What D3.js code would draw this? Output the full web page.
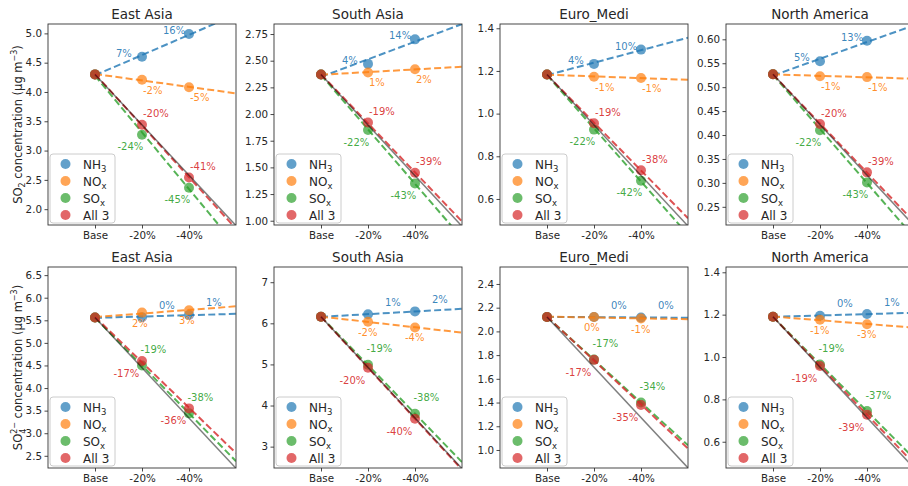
<!DOCTYPE html>
<html><head><meta charset="utf-8">
<script src="https://cdn.jsdelivr.net/npm/d3@7"></script>
<style>body{margin:0;background:#fff} svg text{font-family:"DejaVu Sans",sans-serif}</style>
</head><body><script>
// ---------- DATA ----------
const regions = ["East Asia","South Asia","Euro_Medi","North America"];
const steps = ["Base","-20%","-40%"];
const seriesNames = ["NH3","NOx","SOx","All 3"];

// Row 1: SO2 concentration
const so2Base = [4.30, 2.37, 1.183, 0.527];
const so2NH3 = [[4.60,4.99],[2.47,2.70],[1.233,1.300],[0.554,0.597]];
const so2NOx = [[4.21,4.08],[2.39,2.42],[1.173,1.167],[0.523,0.521]];
const so2SOx = [[3.27,2.365],[1.85,1.35],[0.925,0.685],[0.410,0.301]];
const so2All = [[3.44,2.54],[1.92,1.45],[0.955,0.735],[0.423,0.322]];
const so2NH3Pct = [["7%","16%"],["4%","14%"],["4%","10%"],["5%","13%"]];
const so2NOxPct = [["-2%","-5%"],["1%","2%"],["-1%","-1%"],["-1%","-1%"]];
const so2SOxPct = [["-24%","-45%"],["-22%","-43%"],["-22%","-42%"],["-22%","-43%"]];
const so2AllPct = [["-20%","-41%"],["-19%","-39%"],["-19%","-38%"],["-20%","-39%"]];
const so2YLim = [[1.73,5.16],[0.96,2.844],[0.478,1.42],[0.212,0.632]];
const so2Ticks = [[2.0,2.5,3.0,3.5,4.0,4.5,5.0],[1.00,1.25,1.50,1.75,2.00,2.25,2.50,2.75],[0.6,0.8,1.0,1.2,1.4],[0.25,0.30,0.35,0.40,0.45,0.50,0.55,0.60]];
const so2TickFmt = [".1f",".2f",".1f",".2f"];

// Row 2: SO4 concentration
const so4Base = [5.56, 6.16, 2.122, 1.19];
const so4NH3 = [[5.57,5.62],[6.22,6.29],[2.121,2.117],[1.195,1.203]];
const so4NOx = [[5.67,5.72],[6.04,5.90],[2.121,2.108],[1.176,1.155]];
const so4SOx = [[4.50,3.44],[4.99,3.80],[1.762,1.40],[0.965,0.745]];
const so4All = [[4.60,3.55],[4.92,3.68],[1.760,1.38],[0.958,0.728]];
const so4NH3Pct = [["0%","1%"],["1%","2%"],["0%","0%"],["0%","1%"]];
const so4NOxPct = [["2%","3%"],["-2%","-4%"],["0%","-1%"],["-1%","-3%"]];
const so4SOxPct = [["-19%","-38%"],["-19%","-38%"],["-17%","-34%"],["-19%","-37%"]];
const so4AllPct = [["-17%","-36%"],["-20%","-40%"],["-17%","-35%"],["-19%","-39%"]];
const so4YLim = [[2.23,6.68],[2.48,7.37],[0.848,2.543],[0.476,1.425]];
const so4Ticks = [[2.5,3.0,3.5,4.0,4.5,5.0,5.5,6.0,6.5],[3,4,5,6,7],[1.0,1.2,1.4,1.6,1.8,2.0,2.2,2.4],[0.6,0.8,1.0,1.2,1.4]];
const so4TickFmt = [".1f","d",".1f",".1f"];

// ---------- LAYOUT / STYLE ----------
const W = 908, H = 486;
const colLeft = [48, 274, 500, 726], rowTop = [24, 267], PW = 188, PH = 201;
const colors = ["#1f77b4","#ff7f0e","#2ca02c","#d62728"];
// label offsets (px) per row, per series: [dx, dy] from point center, text-anchor start, baseline
const labelOffsets = [
  [[-26,0],[1,14],[-24.5,15.5],[1,-7.5]],
  [[17,-8.5],[-10,14],[-1.5,-12.5],[-28.5,16]]
];

const rows = [
  {base: so2Base, vals: [so2NH3,so2NOx,so2SOx,so2All], pct: [so2NH3Pct,so2NOxPct,so2SOxPct,so2AllPct],
   ylim: so2YLim, ticks: so2Ticks, fmt: so2TickFmt, label: "so2"},
  {base: so4Base, vals: [so4NH3,so4NOx,so4SOx,so4All], pct: [so4NH3Pct,so4NOxPct,so4SOxPct,so4AllPct],
   ylim: so4YLim, ticks: so4Ticks, fmt: so4TickFmt, label: "so4"}
];

const svg = d3.select("body").append("svg").attr("width", W).attr("height", H)
  .style("display","block");
const defs = svg.append("defs");

function addSeriesLabel(sel, name) {
  if (name === "NH3") { sel.text("NH"); sel.append("tspan").attr("dy", 3.5).attr("font-size", 8.5).text("3"); }
  else if (name === "NOx") { sel.text("NO"); sel.append("tspan").attr("dy", 3.5).attr("font-size", 8.5).text("x"); }
  else if (name === "SOx") { sel.text("SO"); sel.append("tspan").attr("dy", 3.5).attr("font-size", 8.5).text("x"); }
  else sel.text(name);
}

rows.forEach((row, ri) => {
  const top = rowTop[ri];
  // y-axis label (only on first column)
  const yl = svg.append("text")
    .attr("transform", `translate(22,${top + PH/2}) rotate(-90)`)
    .attr("text-anchor","middle").attr("font-size", 11.5).attr("fill","#262626");
  yl.append("tspan").text("SO");
  if (row.label === "so2") {
    yl.append("tspan").attr("dy", 3).attr("font-size", 8).text("2");
    yl.append("tspan").attr("dy", -3).text(" concentration (μg m");
  } else {
    yl.append("tspan").attr("dy", 3.5).attr("font-size", 8).text("4");
    yl.append("tspan").attr("dx", -5.1).attr("dy", -9).attr("font-size", 8).text("2−");
    yl.append("tspan").attr("dy", 5.5).text(" concentration (μg m");
  }
  yl.append("tspan").attr("dy", -5).attr("font-size", 8).text("−3");
  yl.append("tspan").attr("dy", 5).text(")");

  regions.forEach((reg, ci) => {
    const left = colLeft[ci];
    const x = d3.scaleLinear().domain([-1, 3]).range([left, left + PW]);
    const y = d3.scaleLinear().domain(row.ylim[ci]).range([top + PH, top]);
    const clipId = `clip-${ri}-${ci}`;
    defs.append("clipPath").attr("id", clipId).append("rect")
      .attr("x", left).attr("y", top).attr("width", PW).attr("height", PH);

    const g = svg.append("g");

    // title
    g.append("text").attr("x", left + PW/2).attr("y", top - 5.5)
      .attr("text-anchor","middle").attr("font-size", 13.5).attr("fill","#262626").text(reg);

    // axes
    const xAxis = d3.axisBottom(x).tickValues([0,1,2]).tickFormat(i => steps[i])
      .tickSize(3.5).tickSizeOuter(0).tickPadding(3.5);
    const yAxis = d3.axisLeft(y).tickValues(row.ticks[ci]).tickFormat(d3.format(row.fmt[ci]))
      .tickSize(3.5).tickSizeOuter(0).tickPadding(2.5);
    const gx = g.append("g").attr("transform", `translate(0,${top + PH})`).call(xAxis);
    const gy = g.append("g").attr("transform", `translate(${left},0)`).call(yAxis);
    [gx, gy].forEach(a => {
      a.select(".domain").remove();
      a.attr("font-family", null).attr("font-size", null);
      a.selectAll(".tick line").attr("stroke", "#333").attr("stroke-width", 0.9);
      a.selectAll(".tick text").attr("fill", "#262626").attr("font-size", 10.3)
        .attr("font-family", "DejaVu Sans, sans-serif");
    });

    const marks = g.append("g");
    const base = row.base[ci];
    const line = d3.line().x(d => x(d[0])).y(d => y(d[1]));

    row.vals.forEach((sv, si) => {
      const pts = [[0, base], [1, sv[ci][0]], [2, sv[ci][1]]];
      // points
      marks.selectAll(null).data(pts).join("circle")
        .attr("cx", d => x(d[0])).attr("cy", d => y(d[1])).attr("r", 5)
        .attr("fill", colors[si]).attr("fill-opacity", 0.7);
      // least squares fit line through the three points, extended to the right edge
      const mx = d3.mean(pts, p => p[0]), my = d3.mean(pts, p => p[1]);
      const slope = d3.sum(pts, p => (p[0]-mx)*(p[1]-my)) / d3.sum(pts, p => (p[0]-mx)**2);
      const icpt = my - slope*mx;
      marks.append("path").attr("clip-path", `url(#${clipId})`)
        .attr("d", line([[0, icpt], [3, icpt + 3*slope]]))
        .attr("fill","none").attr("stroke", colors[si]).attr("stroke-opacity", 0.8)
        .attr("stroke-width", 2).attr("stroke-dasharray", "7,3.3");
      // percentage labels
      const off = labelOffsets[ri][si];
      pts.slice(1).forEach((p, k) => {
        marks.append("text").attr("x", x(p[0]) + off[0]).attr("y", y(p[1]) + off[1])
          .attr("font-size", 10).attr("fill", colors[si]).attr("fill-opacity", 0.9)
          .text(row.pct[si][ci][k]);
      });
    });
    // proportional (linear) reference line
    marks.append("path").attr("clip-path", `url(#${clipId})`)
      .attr("d", line([[0, base], [3, base * (1 - 0.2*3)]]))
      .attr("fill","none").attr("stroke", "#000").attr("stroke-opacity", 0.5).attr("stroke-width", 1.5);

    // frame
    g.append("rect").attr("x", left).attr("y", top).attr("width", PW).attr("height", PH)
      .attr("fill","none").attr("stroke","#333").attr("stroke-width", 0.9);

    // legend
    const lg = g.append("g").attr("transform", `translate(${left + 2},${top + PH - 71})`);
    lg.append("rect").attr("width", 65).attr("height", 69).attr("rx", 3)
      .attr("fill","#fff").attr("fill-opacity", 0.8).attr("stroke","#cccccc").attr("stroke-width", 1);
    seriesNames.forEach((nm, si) => {
      const cy = 10 + si*17;
      lg.append("circle").attr("cx", 15.5).attr("cy", cy).attr("r", 5)
        .attr("fill", colors[si]).attr("fill-opacity", 0.7);
      const t = lg.append("text").attr("x", 33).attr("y", cy + 4.5)
        .attr("font-size", 12).attr("fill", "#262626");
      addSeriesLabel(t, nm);
    });
  });
});
</script></body></html>
